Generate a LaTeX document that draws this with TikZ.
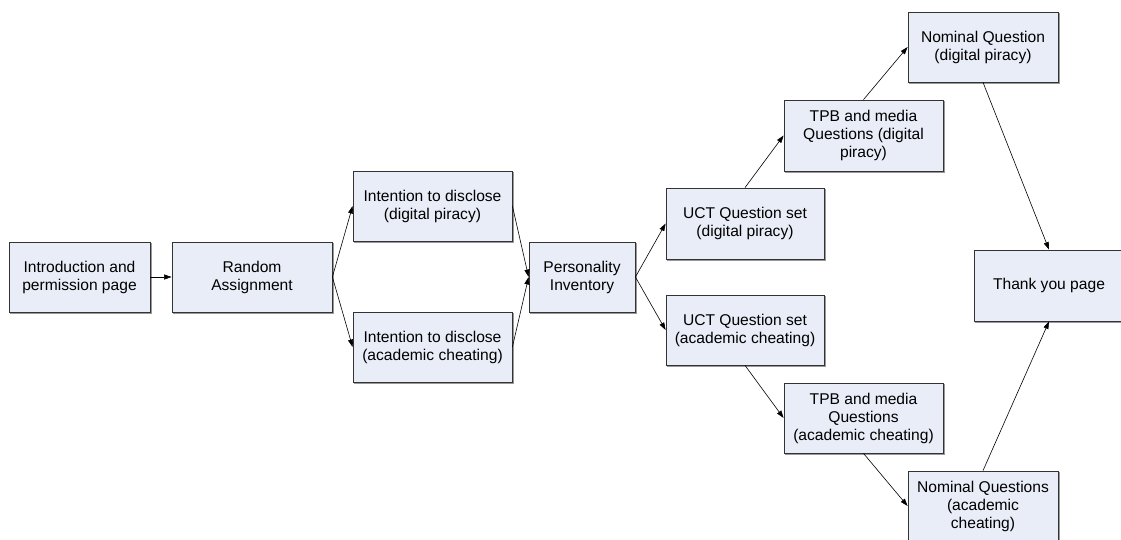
\documentclass[tikz,border=0pt]{standalone}
\usepackage{fontspec}
\setmainfont{Liberation Sans}
\usetikzlibrary{arrows.meta,shadows}
\definecolor{boxfill}{RGB}{232,237,247}
\begin{document}
\begin{tikzpicture}[x=1pt,y=-1pt,
  box/.style={draw=black!80, line width=0.8pt, fill=boxfill, align=center,
    inner sep=0pt, minimum height=70pt,
    font=\fontsize{15.6}{18}\selectfont,
    copy shadow={shadow xshift=1.2pt, shadow yshift=-1.2pt, draw=black!40, fill=black!40}},
  flow/.style={-{Triangle[length=7.5pt,width=5pt]}, line width=0.6pt, black}]
\useasboundingbox (0,0) rectangle (1121,539);
\clip (0,0) rectangle (1121,539);
\fill[white] (0,0) rectangle (1121,539);

% survey pages
\node[box, minimum width=141pt] (intro) at (79.5,277) {Introduction and\\permission page};
\node[box, minimum width=160pt] (rand) at (252,277) {Random\\Assignment};
\node[box, minimum width=159pt] (idp) at (432.5,206) {Intention to disclose\\(digital piracy)};
\node[box, minimum width=159pt] (iac) at (432.5,347) {Intention to disclose\\(academic cheating)};
\node[box, minimum width=106pt] (pers) at (582,277) {Personality\\Inventory};
\node[box, minimum width=158pt, minimum height=71pt] (udp) at (745,223.5) {UCT Question set\\(digital piracy)};
\node[box, minimum width=158pt] (uac) at (745,330) {UCT Question set\\(academic cheating)};
\node[box, minimum width=159pt, minimum height=71pt] (tdp) at (863.5,135.5) {TPB and media\\Questions (digital\\piracy)};
\node[box, minimum width=159pt] (tac) at (863.5,418) {TPB and media\\Questions\\(academic cheating)};
\node[box, minimum width=150pt] (ndp) at (983,47) {Nominal Question\\(digital piracy)};
\node[box, minimum width=150pt] (nac) at (983,506) {Nominal Questions\\(academic\\cheating)};
\node[box, minimum width=150pt, minimum height=71pt] (thank) at (1049,285.5) {Thank you page};

% flow between pages
\draw[flow] (intro.east) -- (rand.west);
\draw[flow] (rand.east) -- (idp.west);
\draw[flow] (rand.east) -- (iac.west);
\draw[flow] (idp.east) -- (pers.west);
\draw[flow] (iac.east) -- (pers.west);
\draw[flow] (pers.east) -- (udp.west);
\draw[flow] (pers.east) -- (uac.west);
\draw[flow] (udp.north) -- (tdp.west);
\draw[flow] (uac.south) -- (tac.west);
\draw[flow] (tdp.north) -- (ndp.west);
\draw[flow] (tac.south) -- (nac.west);
\draw[flow] (ndp.south) -- (thank.north);
\draw[flow] (nac.north) -- (thank.south);
\end{tikzpicture}
\end{document}
